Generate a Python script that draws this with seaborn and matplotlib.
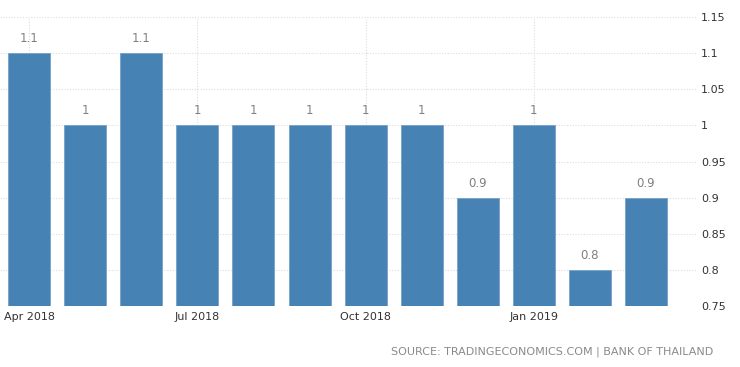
import matplotlib
matplotlib.use("Agg")
import matplotlib.pyplot as plt
import seaborn as sns
import pandas as pd

months = ["Apr 2018", "May 2018", "Jun 2018", "Jul 2018", "Aug 2018", "Sep 2018",
          "Oct 2018", "Nov 2018", "Dec 2018", "Jan 2019", "Feb 2019", "Mar 2019"]
values = [1.1, 1.0, 1.1, 1.0, 1.0, 1.0, 1.0, 1.0, 0.9, 1.0, 0.8, 0.9]
value_labels = ["1.1", "1", "1.1", "1", "1", "1", "1", "1", "0.9", "1", "0.8", "0.9"]
tick_labels = ["Apr 2018", "Jul 2018", "Oct 2018", "Jan 2019"]
y_ticks = [0.75, 0.8, 0.85, 0.9, 0.95, 1.0, 1.05, 1.1, 1.15]
y_tick_labels = ["0.75", "0.8", "0.85", "0.9", "0.95", "1", "1.05", "1.1", "1.15"]

df = pd.DataFrame({"month": months, "value": values})

sns.set_style("white")
plt.rcParams['font.family'] = ['DejaVu Sans', 'Noto Sans CJK SC']

fig = plt.figure(figsize=(7.4, 3.67), dpi=100)
ax = fig.add_axes([0 / 740, 61 / 367, 697 / 740, 289 / 367])

sns.barplot(data=df, x="month", y="value", color="#4682B4", saturation=1,
            width=0.75, ax=ax, zorder=2, edgecolor="#6f9cc6", linewidth=0.5)

ax.set_ylim(0.75, 1.15)
ax.set_xlim(-0.52, 11.91)

for i, (v, lab) in enumerate(zip(values, value_labels)):
    ax.text(i, v + 0.011, lab, ha="center", va="bottom", fontsize=8.5, color="#808080", zorder=4)

ax.set_xticks([months.index(t) for t in tick_labels])
ax.set_xticklabels(tick_labels, fontsize=8, color="#333333")
ax.yaxis.tick_right()
ax.set_yticks(y_ticks)
ax.set_yticklabels(y_tick_labels, fontsize=8, color="#333333")
ax.tick_params(axis="both", length=0, pad=4)
ax.tick_params(axis="y", pad=3)
ax.set_xlabel("")
ax.set_ylabel("")

ax.grid(True, axis="both", linestyle=(0, (1, 1.5)), color="#dcdcdc", linewidth=0.8, zorder=0)
ax.set_axisbelow(True)
for s in ax.spines.values():
    s.set_visible(False)

fig.text(713 / 740, 1 - 352 / 367, "SOURCE: TRADINGECONOMICS.COM | BANK OF THAILAND",
         ha="right", va="center", fontsize=8, color="#8a8a8a")

fig.savefig("out.png", dpi=100)
